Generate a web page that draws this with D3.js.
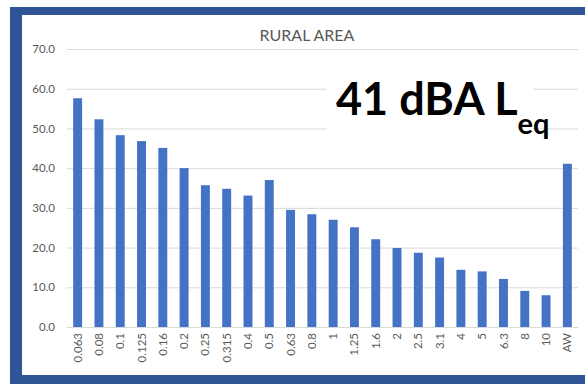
<!DOCTYPE html>
<html>
<head>
<meta charset="utf-8">
<script src="https://cdn.jsdelivr.net/npm/d3@7"></script>
<style>
  body { margin: 0; background: #fff; }
  svg { display: block; }
  .axis text { font-family: Lato, "Open Sans", sans-serif; font-size: 11.5px; fill: #595959; }
</style>
</head>
<body>
<div id="chart"></div>
<script>
// Rural area 1/3 octave spectrum
const bands = ["0.063", "0.08", "0.1", "0.125", "0.16", "0.2", "0.25", "0.315", "0.4", "0.5",
  "0.63", "0.8", "1", "1.25", "1.6", "2", "2.5", "3.1", "4", "5", "6.3", "8", "10", "AW"];
const levels = [57.6, 52.3, 48.3, 46.8, 45.1, 40.0, 35.7, 34.8, 33.1, 37.0,
  29.5, 28.4, 27.0, 25.1, 22.1, 19.9, 18.7, 17.5, 14.4, 14.0, 12.1, 9.1, 8.0, 41.1];
const yTicks = [0, 10, 20, 30, 40, 50, 60, 70];

const width = 585;
const height = 384;

const svg = d3.select("#chart").append("svg")
  .attr("width", width)
  .attr("height", height);

// blue frame (left, top, bottom)
const frame = "#2F5597";
svg.append("rect").attr("x", 10).attr("y", 7).attr("width", width - 10).attr("height", 8).attr("fill", frame);
svg.append("rect").attr("x", 10).attr("y", 7).attr("width", 12).attr("height", 377).attr("fill", frame);
svg.append("rect").attr("x", 10).attr("y", 375).attr("width", width - 10).attr("height", 9).attr("fill", frame);

const x = d3.scaleBand()
  .domain(bands)
  .range([67, 578])
  .paddingInner(0.58)
  .paddingOuter(0.29);

const y = d3.scaleLinear()
  .domain([0, 70])
  .range([327, 49]);

// gridlines + y labels
svg.append("g")
  .attr("class", "axis")
  .attr("transform", "translate(67,0)")
  .call(d3.axisLeft(y).tickValues(yTicks).tickFormat(d3.format(".1f")).tickSize(-511).tickPadding(12))
  .call(g => g.select(".domain").remove())
  .call(g => g.selectAll(".tick line").attr("stroke", "#D9D9D9").attr("stroke-width", 1));

// white box behind the big label
svg.append("rect")
  .attr("x", 327).attr("y", 62)
  .attr("width", 206).attr("height", 78)
  .attr("fill", "#fff");

// bars
svg.append("g")
  .selectAll("rect")
  .data(levels)
  .join("rect")
  .attr("x", (d, i) => x(bands[i]))
  .attr("y", d => y(d))
  .attr("width", x.bandwidth())
  .attr("height", d => y(0) - y(d))
  .attr("fill", "#4472C4");

// x labels rotated
svg.append("g")
  .attr("class", "axis")
  .attr("transform", `translate(0,${y(0)})`)
  .call(d3.axisBottom(x).tickSize(0).tickPadding(0))
  .call(g => g.select(".domain").attr("stroke", "#D9D9D9"))
  .call(g => g.selectAll(".tick text")
    .attr("transform", "rotate(-90)")
    .attr("text-anchor", "end")
    .attr("x", -6)
    .attr("y", 0)
    .attr("dy", "0.35em"));

// title
svg.append("text")
  .attr("x", 307)
  .attr("y", 41)
  .attr("text-anchor", "middle")
  .style("font-family", "Lato, 'Open Sans', sans-serif")
  .style("font-size", "16px")
  .style("fill", "#595959")
  .text("RURAL AREA");

// big annotation
const big = svg.append("text")
  .attr("x", 336)
  .attr("y", 115)
  .style("font-family", "Lato, 'Open Sans', sans-serif")
  .style("font-weight", "bold")
  .style("font-size", "45px")
  .style("fill", "#000");
big.append("tspan").text("41 dBA L");
big.append("tspan")
  .attr("dy", 19)
  .style("font-size", "29px")
  .text("eq");
</script>
</body>
</html>
